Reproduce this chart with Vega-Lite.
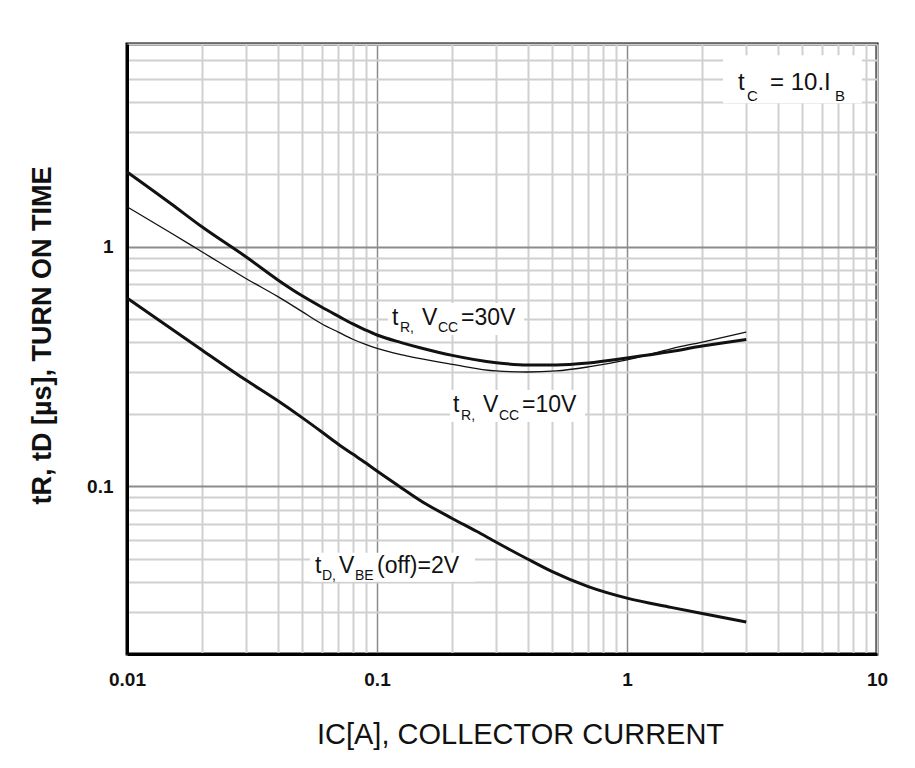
{
 "$schema": "https://vega.github.io/schema/vega-lite/v6.json",
 "width": 750, "height": 610,
 "autosize": "none",
 "padding": {"left": 127, "top": 44, "right": 38, "bottom": 114},
 "background": "white",
 "config": {"view": {"stroke": "black", "strokeWidth": 3}, "font": "Liberation Sans"},
 "datasets": {
  "boxes": [
   {"ic":0.1107,"ic2":0.3873,"t":0.582,"t2":0.4282},
   {"ic":0.1959,"ic2":0.6792,"t":0.2526,"t2":0.1858},
   {"ic":0.05395,"ic2":0.2466,"t":0.05289,"t2":0.04002},
   {"ic":2.421,"ic2":8.71,"t":6.285,"t2":3.967}
  ],
  "curves": [
   {"series":"tR 30V","ic":0.01,"t":2.05},{"series":"tR 30V","ic":0.015,"t":1.51},{"series":"tR 30V","ic":0.02,"t":1.207},{"series":"tR 30V","ic":0.03,"t":0.905},{"series":"tR 30V","ic":0.04,"t":0.728},{"series":"tR 30V","ic":0.05,"t":0.625},{"series":"tR 30V","ic":0.06,"t":0.56},{"series":"tR 30V","ic":0.07,"t":0.513},{"series":"tR 30V","ic":0.08,"t":0.476},{"series":"tR 30V","ic":0.09,"t":0.449},{"series":"tR 30V","ic":0.1,"t":0.428},{"series":"tR 30V","ic":0.125,"t":0.398},{"series":"tR 30V","ic":0.15,"t":0.378},{"series":"tR 30V","ic":0.2,"t":0.352},{"series":"tR 30V","ic":0.3,"t":0.328},{"series":"tR 30V","ic":0.4,"t":0.321},{"series":"tR 30V","ic":0.52,"t":0.321},{"series":"tR 30V","ic":0.7,"t":0.327},{"series":"tR 30V","ic":1.0,"t":0.343},{"series":"tR 30V","ic":1.5,"t":0.365},{"series":"tR 30V","ic":2.0,"t":0.385},{"series":"tR 30V","ic":3.0,"t":0.41},
   {"series":"tR 10V","ic":0.01,"t":1.466},{"series":"tR 10V","ic":0.015,"t":1.14},{"series":"tR 10V","ic":0.02,"t":0.95},{"series":"tR 10V","ic":0.03,"t":0.735},{"series":"tR 10V","ic":0.04,"t":0.62},{"series":"tR 10V","ic":0.05,"t":0.537},{"series":"tR 10V","ic":0.06,"t":0.477},{"series":"tR 10V","ic":0.07,"t":0.44},{"series":"tR 10V","ic":0.08,"t":0.411},{"series":"tR 10V","ic":0.09,"t":0.391},{"series":"tR 10V","ic":0.1,"t":0.376},{"series":"tR 10V","ic":0.13,"t":0.351},{"series":"tR 10V","ic":0.2,"t":0.323},{"series":"tR 10V","ic":0.3,"t":0.303},{"series":"tR 10V","ic":0.4,"t":0.3},{"series":"tR 10V","ic":0.52,"t":0.303},{"series":"tR 10V","ic":0.7,"t":0.315},{"series":"tR 10V","ic":1.0,"t":0.337},{"series":"tR 10V","ic":1.5,"t":0.375},{"series":"tR 10V","ic":2.0,"t":0.4},{"series":"tR 10V","ic":3.0,"t":0.44},
   {"series":"tD","ic":0.01,"t":0.61},{"series":"tD","ic":0.02,"t":0.37},{"series":"tD","ic":0.03,"t":0.277},{"series":"tD","ic":0.04,"t":0.228},{"series":"tD","ic":0.05,"t":0.194},{"series":"tD","ic":0.06,"t":0.169},{"series":"tD","ic":0.07,"t":0.15},{"series":"tD","ic":0.08,"t":0.1364},{"series":"tD","ic":0.09,"t":0.1254},{"series":"tD","ic":0.1,"t":0.116},{"series":"tD","ic":0.123,"t":0.1},{"series":"tD","ic":0.15,"t":0.087},{"series":"tD","ic":0.2,"t":0.0735},{"series":"tD","ic":0.25,"t":0.065},{"series":"tD","ic":0.3,"t":0.0585},{"series":"tD","ic":0.4,"t":0.0498},{"series":"tD","ic":0.5,"t":0.0442},{"series":"tD","ic":0.7,"t":0.0382},{"series":"tD","ic":1.0,"t":0.0342},{"series":"tD","ic":1.5,"t":0.0313},{"series":"tD","ic":2.0,"t":0.0295},{"series":"tD","ic":3.0,"t":0.0272}
  ],
  "labels": [
   {"ic":0.1148,"t":0.4714,"text":"t","role":"main"},
   {"ic":0.1236,"t":0.4386,"text":"R,","role":"sub"},
   {"ic":0.1514,"t":0.4714,"text":"V","role":"main"},
   {"ic":0.1754,"t":0.4386,"text":"CC","role":"sub"},
   {"ic":0.2168,"t":0.4714,"text":"=30V","role":"main"},
   {"ic":0.2014,"t":0.2036,"text":"t","role":"main"},
   {"ic":0.2168,"t":0.1894,"text":"R,","role":"sub"},
   {"ic":0.2655,"t":0.2036,"text":"V","role":"main"},
   {"ic":0.3076,"t":0.1894,"text":"CC","role":"sub"},
   {"ic":0.3802,"t":0.2036,"text":"=10V","role":"main"},
   {"ic":0.05649,"t":0.04365,"text":"t","role":"main"},
   {"ic":0.06026,"t":0.04081,"text":"D,","role":"sub"},
   {"ic":0.07047,"t":0.04365,"text":"V","role":"main"},
   {"ic":0.08166,"t":0.04081,"text":"BE","role":"sub"},
   {"ic":0.1,"t":0.04365,"text":"(off)=2V","role":"main"},
   {"ic":2.78,"t":4.493,"text":"t","role":"big"},
   {"ic":3.02,"t":4.044,"text":"C","role":"bigsub"},
   {"ic":3.733,"t":4.493,"text":"= 10.I","role":"big"},
   {"ic":6.79,"t":4.044,"text":"B","role":"bigsub"}
  ]
 },
 "encoding": {
  "x": {"field": "ic", "type": "quantitative", "scale": {"type": "log", "domain": [0.01, 10], "nice": false},
   "axis": {"values": [0.01,0.02,0.03,0.04,0.05,0.06,0.07,0.08,0.09,0.1,0.2,0.3,0.4,0.5,0.6,0.7,0.8,0.9,1,2,3,4,5,6,7,8,9,10],
    "labelExpr": "indexof([0.01,0.1,1,10], datum.value) >= 0 ? format(datum.value, '~g') : ''",
    "grid": true,
    "gridColor": {"condition": {"test": "datum.value == 0.1 || datum.value == 1", "value": "#8c8c8c"}, "value": "#d0d0d0"},
    "gridWidth": {"condition": {"test": "datum.value == 0.1 || datum.value == 1", "value": 1.5}, "value": 2},
    "gridOpacity": 1,
    "ticks": false, "tickSize": 0,
    "labelFontSize": 19, "labelFontWeight": "bold", "labelColor": "#111", "labelPadding": 16, "labelFlush": false, "labelOverlap": false,
    "domainColor": "black", "domainWidth": 3,
    "title": "IC[A], COLLECTOR CURRENT", "titleFontSize": 29, "titleFontWeight": "normal", "titleColor": "#111",
    "titleX": 393, "titleY": 89, "titleBaseline": "alphabetic", "titleAlign": "center"}},
  "y": {"field": "t", "type": "quantitative", "scale": {"type": "log", "domain": [0.02, 7], "nice": false},
   "axis": {"values": [0.02,0.03,0.04,0.05,0.06,0.07,0.08,0.09,0.1,0.2,0.3,0.4,0.5,0.6,0.7,0.8,0.9,1,2,3,4,5,6,7],
    "labelExpr": "indexof([0.1,1], datum.value) >= 0 ? format(datum.value, '~g') : ''",
    "grid": true,
    "gridColor": {"condition": {"test": "datum.value == 0.1 || datum.value == 1", "value": "#8c8c8c"}, "value": "#d0d0d0"},
    "gridWidth": {"condition": {"test": "datum.value == 0.1 || datum.value == 1", "value": 1.8}, "value": 2},
    "gridOpacity": 1,
    "ticks": false, "tickSize": 0,
    "labelFontSize": 19, "labelFontWeight": "bold", "labelColor": "#111", "labelPadding": 14, "labelOverlap": false,
    "domainColor": "black", "domainWidth": 3,
    "title": "tR, tD [µs], TURN ON TIME", "titleFontSize": 27, "titleFontWeight": "bold", "titleColor": "#111",
    "titleX": -77, "titleY": 291, "titleBaseline": "alphabetic", "titleAlign": "center", "titleAngle": -90}}
 },
 "layer": [
  {
   "data": {"name": "boxes"},
   "mark": {"type": "rect", "fill": "white"},
   "encoding": {"x2": {"field": "ic2"}, "y2": {"field": "t2"}}
  },
  {
   "data": {"name": "curves"},
   "transform": [{"filter": "datum.series != 'tR 10V'"}],
   "mark": {"type": "line", "interpolate": "monotone", "color": "#111", "strokeWidth": 3},
   "encoding": {"detail": {"field": "series", "type": "nominal"}}
  },
  {
   "data": {"name": "curves"},
   "transform": [{"filter": "datum.series == 'tR 10V'"}],
   "mark": {"type": "line", "interpolate": "monotone", "color": "#111", "strokeWidth": 1.3},
   "encoding": {"detail": {"field": "series", "type": "nominal"}}
  },
  {
   "data": {"name": "labels"},
   "transform": [{"filter": "datum.role == 'main'"}],
   "mark": {"type": "text", "align": "left", "baseline": "alphabetic", "color": "#111", "fontSize": 23},
   "encoding": {"text": {"field": "text"}}
  },
  {
   "data": {"name": "labels"},
   "transform": [{"filter": "datum.role == 'sub'"}],
   "mark": {"type": "text", "align": "left", "baseline": "alphabetic", "color": "#111", "fontSize": 14},
   "encoding": {"text": {"field": "text"}}
  },
  {
   "data": {"name": "labels"},
   "transform": [{"filter": "datum.role == 'big'"}],
   "mark": {"type": "text", "align": "left", "baseline": "alphabetic", "color": "#111", "fontSize": 24},
   "encoding": {"text": {"field": "text"}}
  },
  {
   "data": {"name": "labels"},
   "transform": [{"filter": "datum.role == 'bigsub'"}],
   "mark": {"type": "text", "align": "left", "baseline": "alphabetic", "color": "#111", "fontSize": 15},
   "encoding": {"text": {"field": "text"}}
  }
 ]
}
